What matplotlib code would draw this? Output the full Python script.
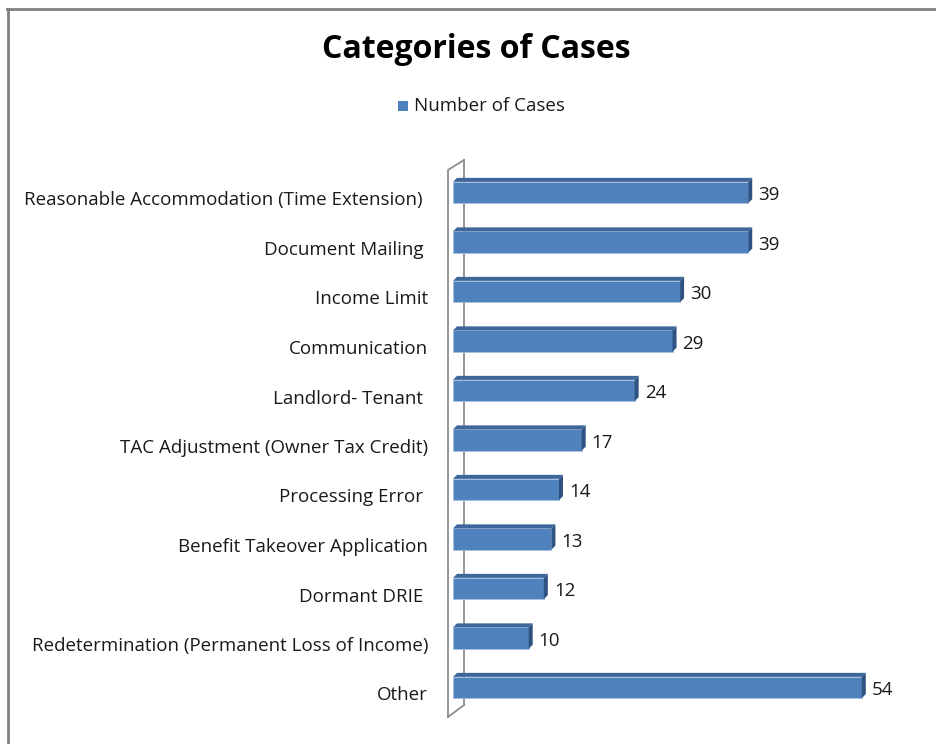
import matplotlib.pyplot as plt
from matplotlib.patches import Polygon
from matplotlib.lines import Line2D
from matplotlib.transforms import ScaledTranslation

# Data
categories = [
    'Reasonable Accommodation (Time Extension) ',
    'Document Mailing ',
    'Income Limit',
    'Communication',
    'Landlord- Tenant ',
    'TAC Adjustment (Owner Tax Credit)',
    'Processing Error ',
    'Benefit Takeover Application',
    'Dormant DRIE ',
    'Redetermination (Permanent Loss of Income)',
    'Other',
]
cases = [39, 39, 30, 29, 24, 17, 14, 13, 12, 10, 54]

plt.rcParams['font.family'] = ['Open Sans', 'DejaVu Sans']

W, H = 936, 744
fig = plt.figure(figsize=(W / 100, H / 100), dpi=100)

# axes placed in pixels
ax_left, ax_right, ax_top, ax_bottom = 453, 907, 150, 722
ax = fig.add_axes([ax_left / W, (H - ax_bottom) / H,
                   (ax_right - ax_left) / W, (ax_bottom - ax_top) / H])

px_per_unit = 7.57
row_px = 49.5
first_row_px = 192.5
xmax = (ax_right - ax_left) / px_per_unit
ax.set_xlim(0, xmax)
ax.set_ylim((ax_bottom - first_row_px) / row_px, (ax_top - first_row_px) / row_px)

front = '#4F81BD'
top_c = '#3D679B'
side_c = '#2E5282'
bar_h = 0.43
dx = 4 / px_per_unit
dy = 4 / row_px

# back wall of the 3D plot
wall_x0 = -5 / px_per_unit
wall_x1 = 11 / px_per_unit
wall_col = '#8C8C8C'
y_top_front = (170 - first_row_px) / row_px
y_top_back = (160 - first_row_px) / row_px
y_bot_front = (717 - first_row_px) / row_px
y_bot_back = (705 - first_row_px) / row_px
ax.plot([wall_x1, wall_x1], [y_top_back, y_bot_back], color=wall_col, lw=1.3,
        clip_on=False, zorder=1)
ax.plot([wall_x0, wall_x0, wall_x1], [y_bot_front, y_top_front, y_top_back],
        color=wall_col, lw=1.3, clip_on=False, zorder=1)
ax.plot([wall_x0, wall_x1], [y_bot_front, y_bot_back], color=wall_col, lw=1.3,
        clip_on=False, zorder=1)

ypos = list(range(len(categories)))
ax.barh(ypos, cases, height=bar_h, color=front, edgecolor='#A9C1E0',
        linewidth=0.6, zorder=3)
for y, v in zip(ypos, cases):
    top = y - bar_h / 2
    ax.add_patch(Polygon([(0, top), (dx, top - dy), (v + dx, top - dy), (v, top)],
                         closed=True, facecolor=top_c, edgecolor='none', zorder=3))
    ax.add_patch(Polygon([(v, top), (v + dx, top - dy), (v + dx, y + bar_h / 2 - dy),
                          (v, y + bar_h / 2)],
                         closed=True, facecolor=side_c, edgecolor='none', zorder=3))
    ax.text(v + 10 / px_per_unit, y + 0.06, str(v), va='center', ha='left',
            fontsize=13.5, color='#1a1a1a')

ax.set_yticks(ypos)
ax.set_yticklabels(categories, fontsize=13.5, color='#1a1a1a')
ax.tick_params(axis='y', length=0, pad=18)
shift = ScaledTranslation(0, -6 / 100, fig.dpi_scale_trans)
for lab in ax.get_yticklabels():
    lab.set_transform(lab.get_transform() + shift)
ax.set_xticks([])
for s in ax.spines.values():
    s.set_visible(False)
ax.patch.set_alpha(0)

fig.text(476 / W, 1 - 49 / H, 'Categories of Cases', ha='center', va='center',
         fontsize=23, fontweight='bold', color='black')
fig.patches.append(plt.Rectangle((398 / W, 1 - 111 / H), 10 / W, 10 / H,
                                 transform=fig.transFigure, facecolor=front,
                                 edgecolor='none'))
fig.text(414 / W, 1 - 106 / H, 'Number of Cases', ha='left', va='center',
         fontsize=13.5, color='#1a1a1a')

# outer chart border (left and top edges visible)
fig.add_artist(Line2D([8 / W, 8 / W], [0, 1 - 8.5 / H], transform=fig.transFigure,
                      color='#808080', lw=2))
fig.add_artist(Line2D([7 / W, 1], [1 - 8.5 / H, 1 - 8.5 / H], transform=fig.transFigure,
                      color='#808080', lw=2))

fig.savefig('out.png', dpi=100)
